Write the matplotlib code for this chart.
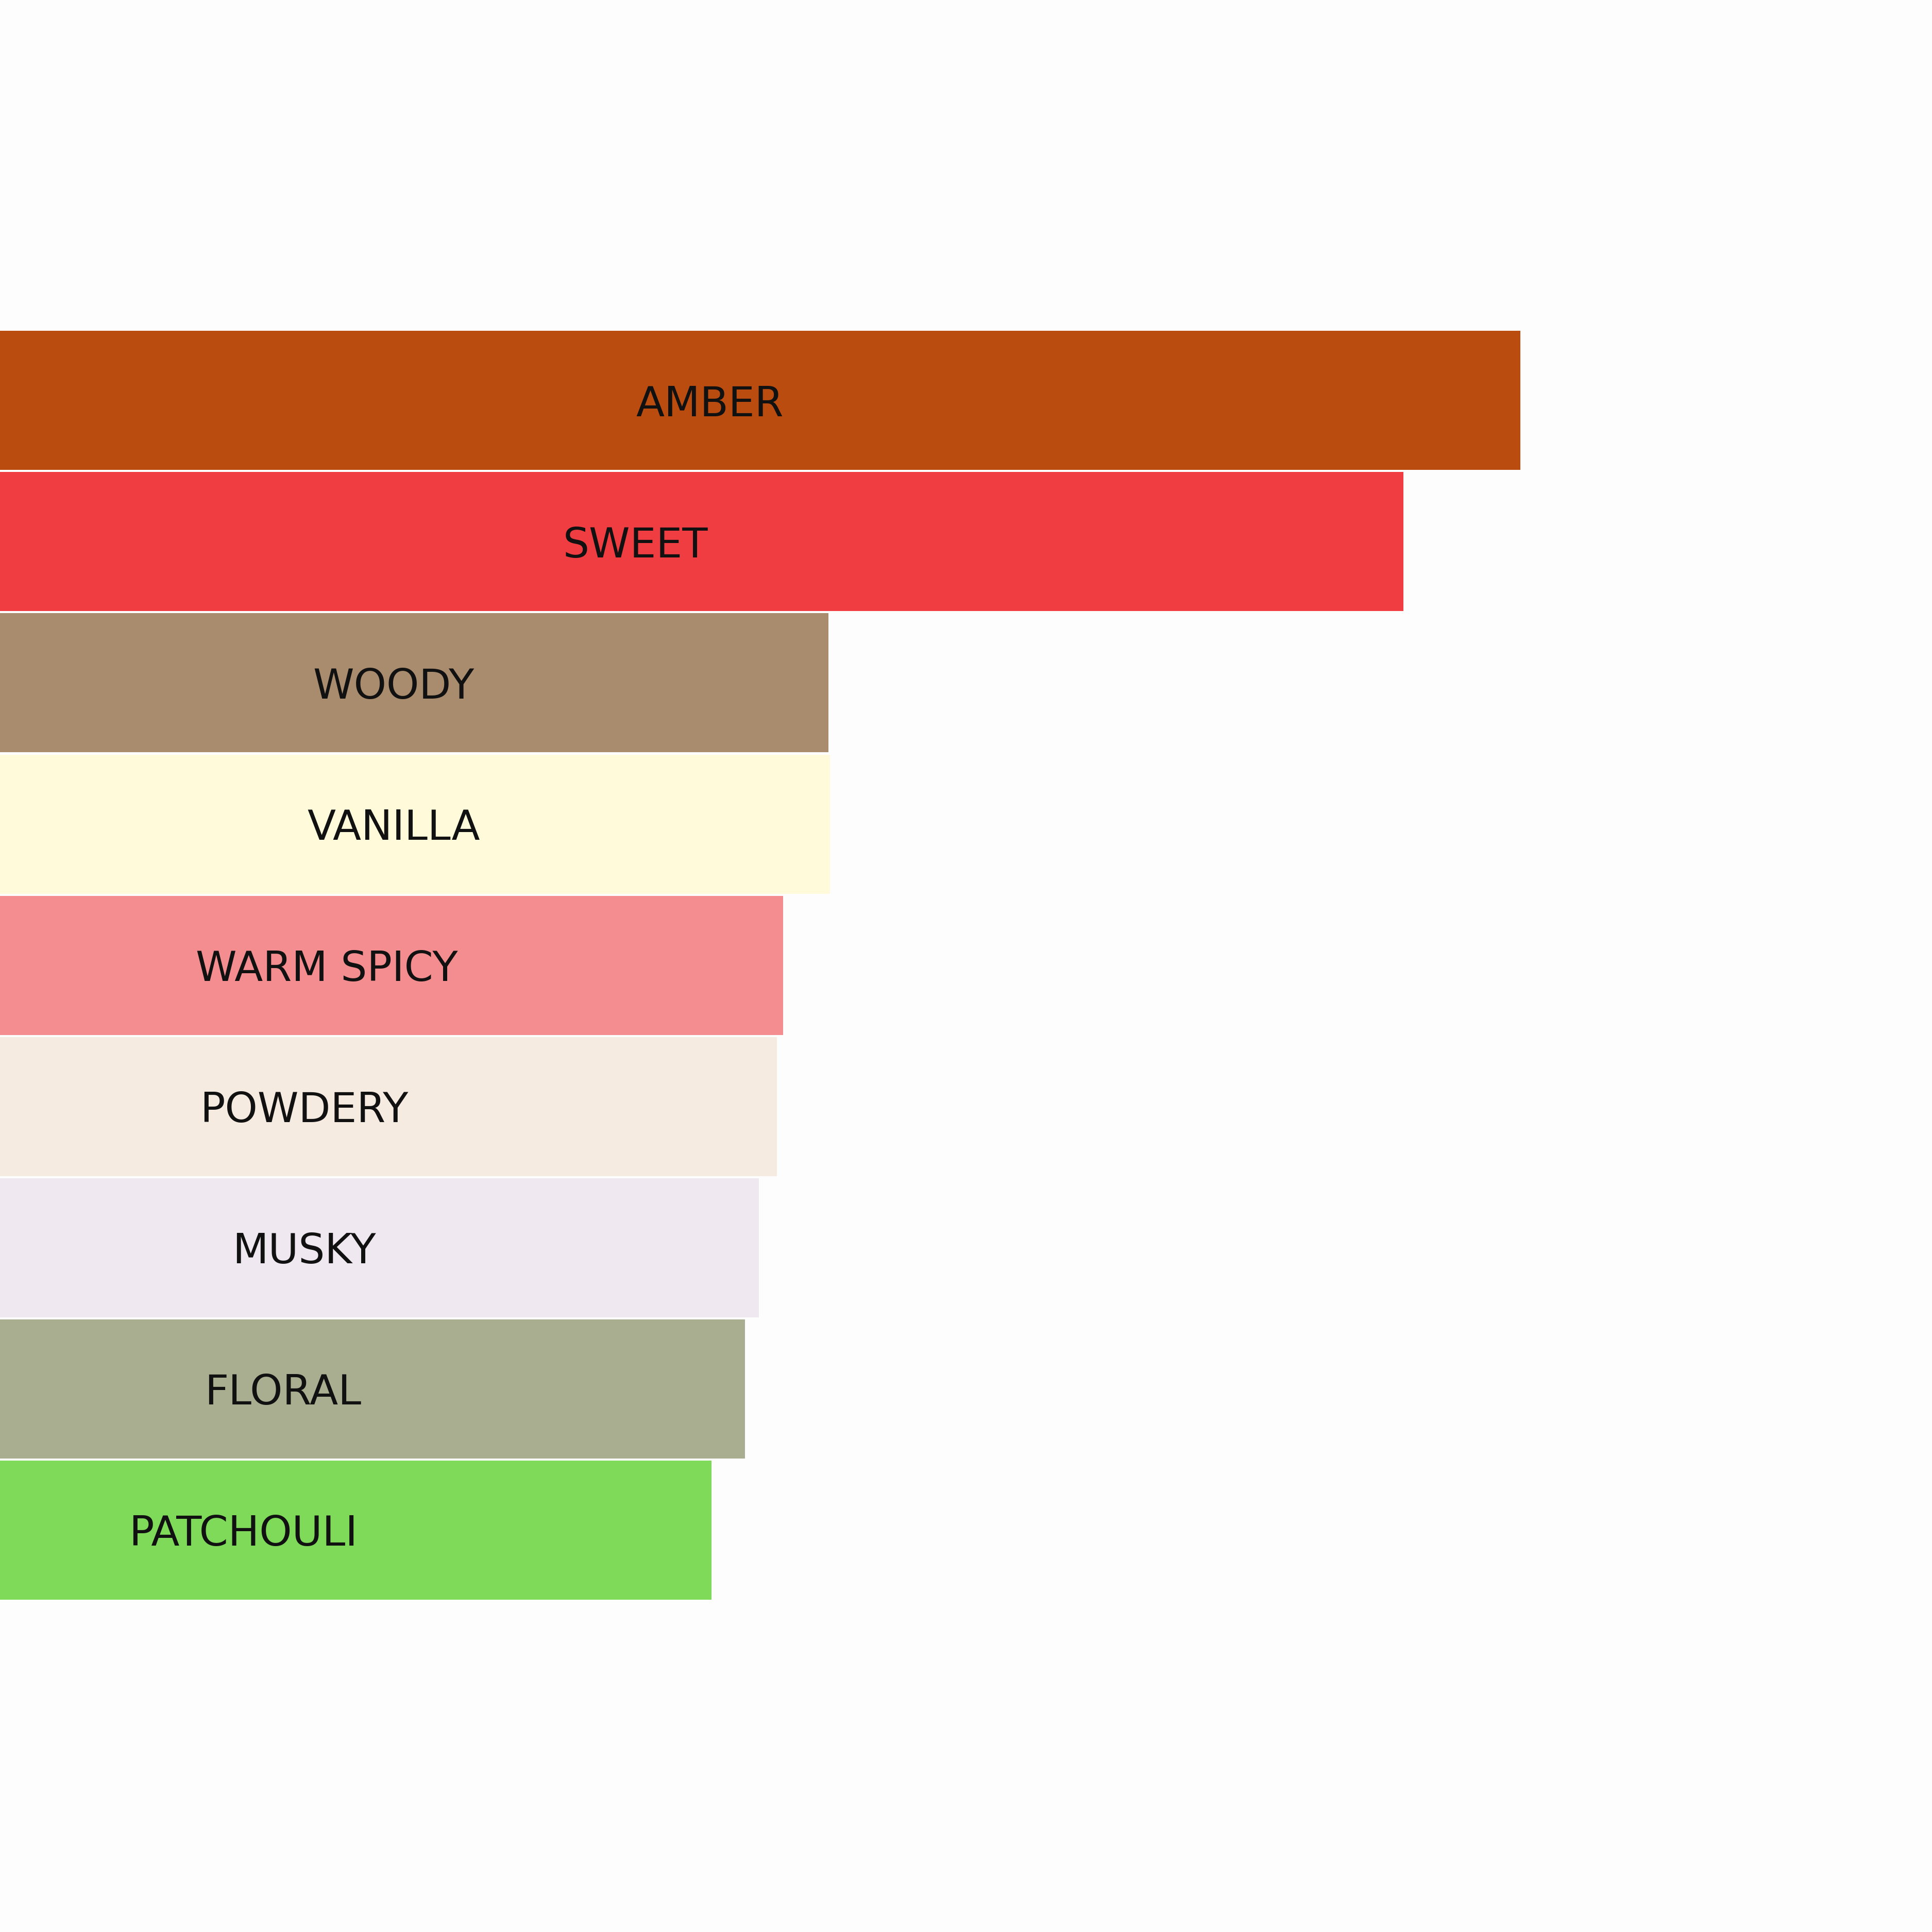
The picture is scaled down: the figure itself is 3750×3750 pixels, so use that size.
import numpy as np
import matplotlib
matplotlib.use("Agg")
import matplotlib.pyplot as plt

# accord strengths (% of strongest)
accords = ["AMBER", "SWEET", "WOODY", "VANILLA", "WARM SPICY",
           "POWDERY", "MUSKY", "FLORAL", "PATCHOULI"]
strength = [100.0, 92.3, 54.5, 54.6, 51.5, 51.1, 49.9, 49.0, 46.8]
colours = ["#BA4C10", "#EF3D42", "#A98B6E", "#FEFADA", "#F38D8F",
           "#F5EBE1", "#EFE8F0", "#AAAE91", "#7FDA5A"]
# where each label sits along its bar
label_x = [46.7, 41.8, 25.9, 25.9, 21.5, 20.0, 20.0, 18.6, 16.0]

fig = plt.figure(figsize=(37.5, 37.5), dpi=100)
fig.patch.set_facecolor("#FEFDFD")
ax = fig.add_axes([0, 0, 1, 1])
ax.set_facecolor("#FEFDFD")

ypos = np.arange(len(accords))
ax.barh(ypos, strength, height=0.985, color=colours, edgecolor="none")

for y, name, lx in zip(ypos, accords, label_x):
    # labels sit a touch below the bar centre
    ax.text(lx, y + 0.03, name, ha="center", va="center", fontsize=58,
            color="#111111", family="DejaVu Sans")

ax.set_xlim(0, 127.07)
ax.set_ylim(10.846, -2.836)
ax.axis("off")

fig.savefig("out.png", dpi=100, facecolor=fig.get_facecolor())
